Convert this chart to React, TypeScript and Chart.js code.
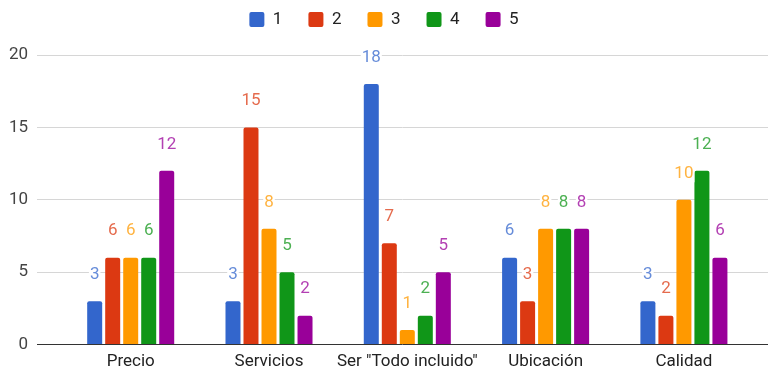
import React, { useEffect, useRef } from "react";
import { Chart, registerables } from "chart.js";

Chart.register(...registerables);

// Survey categories and the count of answers per rating (1..5)
const categories = ["Precio", "Servicios", 'Ser "Todo incluido"', "Ubicación", "Calidad"];
const seriesNames = ["1", "2", "3", "4", "5"];
const rating1 = [3, 3, 18, 6, 3];
const rating2 = [6, 15, 7, 3, 2];
const rating3 = [6, 8, 1, 8, 10];
const rating4 = [6, 5, 2, 8, 12];
const rating5 = [12, 2, 5, 8, 6];
const yTickValues = [0, 5, 10, 15, 20];

const barColors = ["#3366cc", "#dc3912", "#ff9900", "#109618", "#990099"];
const labelColors = ["#668cd9", "#e56b4d", "#ffb340", "#4cb052", "#b340b3"];

const FONT = "Roboto";
const FONT_SIZE = 17;

// Draws each bar's value above it on a small white plate
const valueLabels = {
  id: "valueLabels",
  afterDatasetsDraw(chart: any) {
    const ctx = chart.ctx;
    ctx.save();
    ctx.font = `${FONT_SIZE}px ${FONT}`;
    ctx.textAlign = "center";
    ctx.textBaseline = "middle";
    chart.data.datasets.forEach((ds: any, di: number) => {
      const meta = chart.getDatasetMeta(di);
      meta.data.forEach((el: any, i: number) => {
        const text = String(ds.data[i].y);
        const y = el.y - 26.5;
        const w = ctx.measureText(text).width;
        ctx.fillStyle = "#ffffff";
        ctx.fillRect(el.x - w / 2 - 1, y - 9, w + 2, 18);
        ctx.fillStyle = labelColors[di];
        ctx.fillText(text, el.x, y);
      });
    });
    ctx.restore();
  },
};

// Extra room between the legend row and the plot
const legendGap = {
  id: "legendGap",
  beforeInit(chart: any) {
    const legend = chart.legend;
    if (!legend) return;
    const fit = legend.fit;
    legend.fit = function () {
      fit.call(this);
      this.height += 17;
    };
  },
};

export default function App() {
  const canvasRef = useRef<HTMLCanvasElement | null>(null);

  useEffect(() => {
    const canvas = canvasRef.current;
    if (!canvas) return;
    const allSeries = [rating1, rating2, rating3, rating4, rating5];
    const chart = new Chart(canvas, {
      type: "bar",
      data: {
        datasets: allSeries.map((values, si) => ({
          label: seriesNames[si],
          data: values.map((v, i) => ({ x: i, y: v })),
          backgroundColor: barColors[si],
          borderColor: barColors[si],
          borderWidth: 0,
          borderRadius: 2,
          barPercentage: 0.833,
          categoryPercentage: 0.651,
        })),
      },
      options: {
        responsive: false,
        maintainAspectRatio: false,
        animation: false,
        events: [],
        layout: { padding: { top: -15, bottom: -5, left: 0, right: 0 } },
        plugins: {
          legend: {
            position: "top",
            labels: {
              boxWidth: 15,
              boxHeight: 15,
              padding: 26,
              color: "#222222",
              font: { family: FONT, size: FONT_SIZE },
              useBorderRadius: true,
              borderRadius: 2,
            },
          },
          tooltip: { enabled: false },
        },
        scales: {
          x: {
            type: "linear",
            offset: false,
            bounds: "data",
            min: -0.6775,
            max: 4.608,
            grid: { display: false, drawTicks: false, offset: false },
            border: { display: false },
            afterBuildTicks: (axis: any) => {
              axis.ticks = categories.map((_, i) => ({ value: i }));
            },
            ticks: {
              stepSize: 1,
              autoSkip: false,
              maxRotation: 0,
              padding: 7,
              color: "#222222",
              font: { family: FONT, size: FONT_SIZE },
              callback: (v: any) => categories[v] ?? "",
            },
          },
          y: {
            min: 0,
            max: 20,
            afterBuildTicks: (axis: any) => {
              axis.ticks = yTickValues.map((v) => ({ value: v }));
            },
            afterFit: (scale: any) => {
              scale.width = 37;
            },
            grid: {
              drawTicks: false,
              lineWidth: 1,
              color: (c: any) => (c.tick && c.tick.value === 0 ? "#333333" : "#d6d6d6"),
            },
            border: { display: false },
            ticks: {
              padding: 9,
              color: "#444444",
              font: { family: FONT, size: FONT_SIZE },
            },
          },
        },
      },
      plugins: [valueLabels, legendGap],
    } as any);
    return () => chart.destroy();
  }, []);

  return (
    <div style={{ position: "fixed", left: 0, top: 0, width: 768, height: 374, background: "#ffffff" }}>
      <canvas ref={canvasRef} width={768} height={374} />
    </div>
  );
}
